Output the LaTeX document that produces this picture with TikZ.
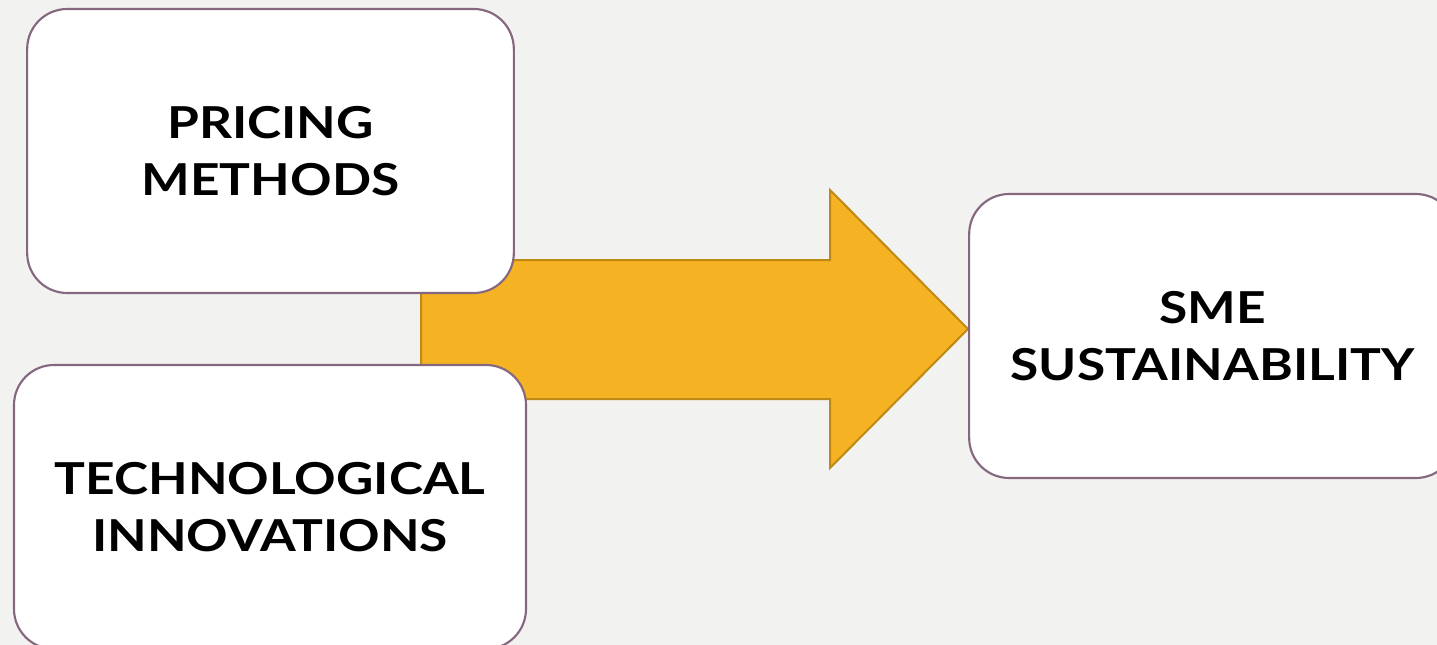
\documentclass[tikz,border=0pt]{standalone}
\usepackage{fontspec}
\setmainfont{Lato}[FakeStretch=1.17]
\definecolor{bg}{HTML}{F2F2F0}
\definecolor{boxline}{HTML}{85687F}
\definecolor{arrowfill}{HTML}{F5B323}
\definecolor{arrowline}{HTML}{BF8A14}
\tikzset{
  box/.style={draw=boxline, line width=1.6pt, fill=white, rounded corners=30pt,
    minimum width=365pt, minimum height=213pt, align=center, inner sep=0pt,
    font=\fontsize{33}{42.75}\selectfont\bfseries, text=black},
  bigarrow/.style={fill=arrowfill, draw=arrowline, line width=1.5pt, line join=miter}
}
\begin{document}
\begin{tikzpicture}[x=0.75pt, y=-0.75pt]
\fill[bg] (0,0) rectangle (1437,645);
\useasboundingbox (0,0) rectangle (1437,645);
\draw[bigarrow] (421,260) -- (830,260) -- (830,190) -- (968,329) -- (830,468) -- (830,399) -- (421,399) -- cycle;
\node[box] (pricing) at (270.5,151) {PRICING\\METHODS};
\node[box, minimum width=384pt] (tech) at (270,507) {TECHNOLOGICAL\\INNOVATIONS};
\node[box] (sme) at (1212.5,336) {SME\\SUSTAINABILITY};
\end{tikzpicture}
\end{document}
